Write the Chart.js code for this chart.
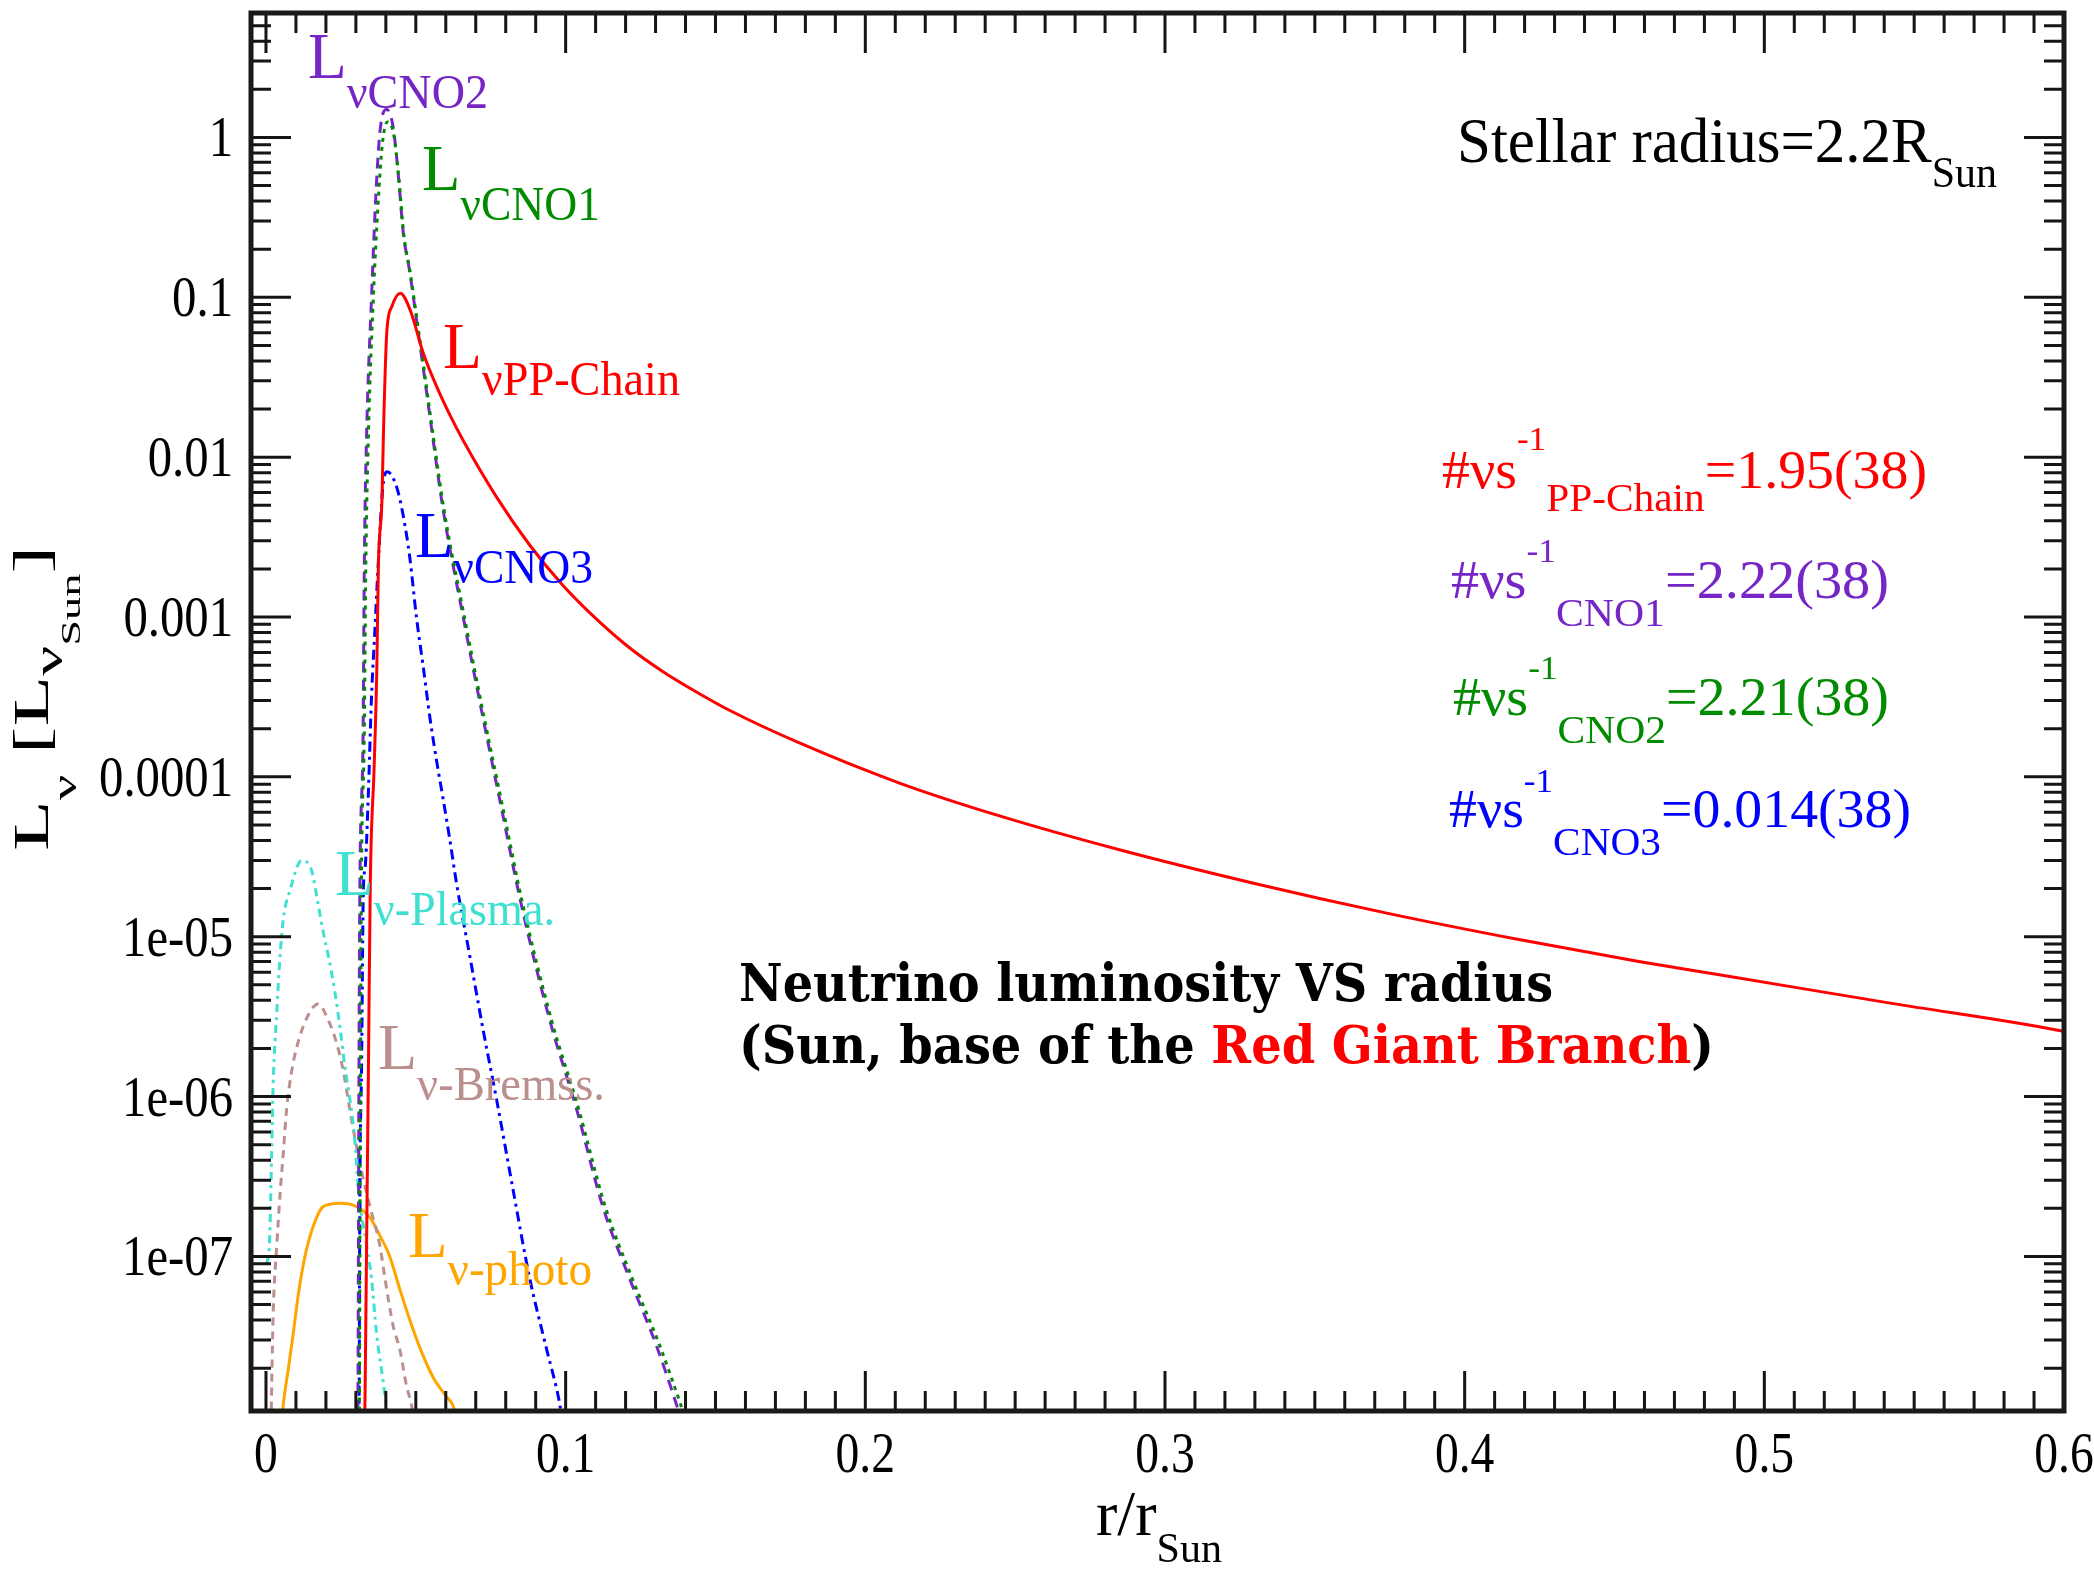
<!DOCTYPE html>
<html>
<head>
<meta charset="utf-8">
<title>Neutrino luminosity VS radius</title>
<script src="https://cdn.jsdelivr.net/npm/chart.js@4.4.1/dist/chart.umd.min.js"></script>
<style>
  html, body { margin: 0; padding: 0; background: #fff; }
  canvas { display: block; }
</style>
</head>
<body>
<canvas id="myChart" width="2094" height="1573"></canvas>
<script>
// r/r_Sun and L_nu [L_nu_Sun], one pair of arrays per process

var ppX = [0.0329, 0.0331, 0.0337, 0.0342, 0.0348, 0.0361, 0.0370, 0.0375, 0.0387, 0.0392, 0.0403, 0.0420, 0.0448, 0.0481, 0.0525, 0.0570, 0.0614, 0.0659, 0.0770, 0.0881, 0.0992, 0.1103, 0.1214, 0.1325, 0.1448, 0.1548, 0.178, 0.2114, 0.2448, 0.2848, 0.3292, 0.3736, 0.4181, 0.4581, 0.487, 0.5425, 0.598, 0.6];
var ppY = [8e-9, 1.56e-8, 2.05e-7, 1.6e-6, 2.1e-5, 1.16e-4, 4.9e-4, 2.07e-3, 5.4e-3, 1.42e-2, 5.98e-2, 8.75e-2, 0.106, 8.34e-2, 4.47e-2, 2.75e-2, 1.83e-2, 1.26e-2, 5.6e-3, 2.8e-3, 1.57e-3, 9.7e-4, 6.4e-4, 4.55e-4, 3.3e-4, 2.6e-4, 1.63e-4, 9.15e-5, 5.7e-5, 3.5e-5, 2.17e-5, 1.41e-5, 9.6e-6, 7.0e-6, 5.7e-6, 3.83e-6, 2.6e-6, 2.55e-6];

var cno1X = [0.0310, 0.0312, 0.0315, 0.0318, 0.0328, 0.0333, 0.0342, 0.0358, 0.0374, 0.0388, 0.0405, 0.0426, 0.0443, 0.0460, 0.0482, 0.0504, 0.0526, 0.0549, 0.0594, 0.0662, 0.0728, 0.0796, 0.0852, 0.0953, 0.1043, 0.1132, 0.1222, 0.1313, 0.1383, 0.1405];
var cno1Y = [5e-9, 1.5e-8, 1.0e-6, 1.7e-5, 1.9e-4, 2.0e-3, 1.43e-2, 9.7e-2, 0.38, 0.9, 1.25, 1.05, 0.56, 0.245, 0.14, 7.2e-2, 3.7e-2, 1.8e-2, 4.7e-3, 1.0e-3, 2.35e-4, 5.7e-5, 1.75e-5, 3.0e-6, 8.4e-7, 2.05e-7, 7.3e-8, 2.8e-8, 1.2e-8, 9e-9];

var cno2X = [0.0305, 0.0307, 0.0310, 0.0313, 0.0324, 0.0328, 0.0336, 0.0352, 0.0366, 0.0380, 0.0402, 0.0424, 0.0441, 0.0458, 0.0480, 0.0502, 0.0524, 0.0547, 0.0591, 0.0658, 0.0724, 0.0791, 0.0847, 0.0947, 0.1036, 0.1124, 0.1213, 0.1302, 0.1369, 0.1390];
var cno2Y = [5e-9, 1.5e-8, 1.0e-6, 1.7e-5, 1.85e-4, 2.0e-3, 1.43e-2, 9.7e-2, 0.41, 1.07, 1.5, 1.17, 0.60, 0.254, 0.143, 7.3e-2, 3.7e-2, 1.8e-2, 4.7e-3, 1.0e-3, 2.35e-4, 5.7e-5, 1.75e-5, 3.0e-6, 8.4e-7, 2.05e-7, 7.3e-8, 2.8e-8, 1.2e-8, 9e-9];

var cno3X = [0.0309, 0.0311, 0.0313, 0.0319, 0.0325, 0.0331, 0.0341, 0.0352, 0.0363, 0.0374, 0.0390, 0.0405, 0.0436, 0.0458, 0.0480, 0.0502, 0.0524, 0.0547, 0.0569, 0.0591, 0.0613, 0.0636, 0.0680, 0.0724, 0.0769, 0.0824, 0.0880, 0.0936, 0.0980, 0.0990];
var cno3Y = [5e-9, 1.6e-8, 2.05e-7, 1.55e-6, 2.0e-5, 2.7e-5, 7.3e-5, 3.1e-4, 8.0e-4, 2.05e-3, 6.5e-3, 8.1e-3, 6.5e-3, 4.3e-3, 2.35e-3, 1.0e-3, 5.0e-4, 2.35e-4, 1.27e-4, 7.3e-5, 4.1e-5, 2.15e-5, 7.6e-6, 2.65e-6, 9.7e-7, 2.65e-7, 7.3e-8, 2.65e-8, 1.2e-8, 9e-9];

var plasmaX = [0.0003, 0.0012, 0.0019, 0.0024, 0.0036, 0.0047, 0.0058, 0.0080, 0.0119, 0.0152, 0.0174, 0.0191, 0.0208, 0.0230, 0.0247, 0.0263, 0.0280, 0.0297, 0.0308, 0.0336, 0.0352, 0.0369, 0.0391, 0.0410];
var plasmaY = [9e-8, 1.25e-7, 4.5e-7, 1.2e-6, 3.4e-6, 7.6e-6, 1.3e-5, 1.95e-5, 3.0e-5, 2.6e-5, 1.6e-5, 1.07e-5, 7.6e-6, 4.5e-6, 2.7e-6, 1.55e-6, 9.6e-7, 5.2e-7, 2.65e-7, 1.17e-7, 7.3e-8, 3.3e-8, 1.65e-8, 9e-9];

var bremX = [0.0017, 0.0019, 0.0024, 0.0036, 0.0047, 0.0058, 0.0069, 0.0086, 0.0103, 0.0136, 0.0174, 0.0208, 0.0236, 0.0258, 0.0274, 0.0291, 0.0319, 0.0347, 0.0380, 0.0397, 0.0424, 0.0447, 0.0469, 0.0486, 0.0495];
var bremY = [9e-9, 1.55e-8, 4.4e-8, 1.17e-7, 2.45e-7, 4.5e-7, 8.4e-7, 1.45e-6, 2.05e-6, 3.1e-6, 3.8e-6, 3.0e-6, 2.15e-6, 1.45e-6, 9.6e-7, 6.3e-7, 3.4e-7, 2.05e-7, 1.17e-7, 7.3e-8, 3.7e-8, 2.6e-8, 1.55e-8, 1.17e-8, 9e-9];

var photoX = [0.0052, 0.0058, 0.0074, 0.0091, 0.0108, 0.0130, 0.0158, 0.0191, 0.0247, 0.0302, 0.0347, 0.0380, 0.0413, 0.0447, 0.0480, 0.0513, 0.0558, 0.0602, 0.0624, 0.0640];
var photoY = [9e-9, 1.2e-8, 1.95e-8, 3.3e-8, 5.8e-8, 1.0e-7, 1.55e-7, 2.05e-7, 2.15e-7, 2.05e-7, 1.75e-7, 1.35e-7, 1.0e-7, 6.2e-8, 4.0e-8, 2.7e-8, 1.75e-8, 1.33e-8, 1.17e-8, 9e-9];

// axis ticks
var xTickValues = [0, 0.1, 0.2, 0.3, 0.4, 0.5, 0.6];
var xTickLabels = ["0", "0.1", "0.2", "0.3", "0.4", "0.5", "0.6"];
var yTickValues = [1e-7, 1e-6, 1e-5, 1e-4, 1e-3, 1e-2, 1e-1, 1];
var yTickLabels = ["1e-07", "1e-06", "1e-05", "0.0001", "0.001", "0.01", "0.1", "1"];

// rate numbers printed on the right
var rateNames = ["PP-Chain", "CNO1", "CNO2", "CNO3"];
var rateValues = ["=1.95(38)", "=2.22(38)", "=2.21(38)", "=0.014(38)"];

var SERIF = '"Liberation Serif", "Times New Roman", serif';
var PURPLE = "#7526c4", GREEN = "#008b00", CYAN = "#40e0d0", ROSY = "#bc8f8f", ORANGE = "#ffa500";

function toPoints(xs, ys) {
    var pts = [];
    for (var i = 0; i < xs.length; i++) {
        pts.push({ x: xs[i], y: ys[i] });
    }
    return pts;
}

// draws a row of text pieces, squeezed/stretched sideways to fill "width"
function drawRich(ctx, x, y, parts, width) {
    var total = 0;
    parts.forEach(function(p) {
        ctx.font = p.font;
        p.w = ctx.measureText(p.text).width;
        total += p.w;
    });
    var sx = width ? width / total : 1;
    ctx.save();
    ctx.translate(x, y);
    ctx.scale(sx, 1);
    var cx = 0;
    parts.forEach(function(p) {
        ctx.font = p.font;
        ctx.fillStyle = p.color;
        ctx.fillText(p.text, cx, p.dy || 0);
        cx += p.w;
    });
    ctx.restore();
    return total * sx;
}

function curveLabel(ctx, x, base, sub, subDy, width, color) {
    drawRich(ctx, x, base, [
        { text: "L", font: "66px " + SERIF, color: color },
        { text: sub, font: "48px " + SERIF, color: color, dy: subDy }
    ], width);
}

function rateLine(ctx, x, base, i, supDy, subDy, width, color) {
    drawRich(ctx, x, base, [
        { text: "#νs", font: "54px " + SERIF, color: color },
        { text: "-1", font: "34px " + SERIF, color: color, dy: supDy },
        { text: rateNames[i], font: "40px " + SERIF, color: color, dy: subDy },
        { text: rateValues[i], font: "54px " + SERIF, color: color }
    ], width);
}

// frame with inward ticks on all four sides, tick labels and axis titles
var framePlugin = {
    id: "frame",
    afterDatasetsDraw: function(chart) {
        var ctx = chart.ctx;
        var a = chart.chartArea;
        var xs = chart.scales.x, ys = chart.scales.y;
        ctx.save();
        ctx.strokeStyle = "#151515";
        ctx.lineWidth = 3;
        ctx.beginPath();
        for (var k = 0; k <= 60; k++) {
            var px = xs.getPixelForValue(k / 100);
            var len = (k % 10 === 0) ? 40 : 20;
            ctx.moveTo(px, a.bottom); ctx.lineTo(px, a.bottom - len);
            ctx.moveTo(px, a.top); ctx.lineTo(px, a.top + len);
        }
        for (var e = -8; e <= 0; e++) {
            for (var m = 1; m <= 9; m++) {
                var v = m * Math.pow(10, e);
                if (v < ys.min || v > ys.max * 0.999) continue;
                var py = ys.getPixelForValue(v);
                var l2 = (m === 1) ? 40 : 20;
                ctx.moveTo(a.left, py); ctx.lineTo(a.left + l2, py);
                ctx.moveTo(a.right, py); ctx.lineTo(a.right - l2, py);
            }
        }
        ctx.stroke();
        ctx.lineWidth = 5;
        ctx.strokeStyle = "#1a1a1a";
        ctx.strokeRect(a.left, a.top, a.right - a.left, a.bottom - a.top);

        ctx.textBaseline = "alphabetic";
        ctx.textAlign = "left";
        var tickFont = "56px " + SERIF;
        ctx.font = tickFont;
        for (var i = 0; i < yTickValues.length; i++) {
            var w = ctx.measureText(yTickLabels[i]).width * 0.87;
            var yy = ys.getPixelForValue(yTickValues[i]);
            drawRich(ctx, 233 - w, yy + 19, [{ text: yTickLabels[i], font: tickFont, color: "#000" }], w);
            ctx.font = tickFont;
        }
        for (var j = 0; j < xTickValues.length; j++) {
            var w2 = ctx.measureText(xTickLabels[j]).width * 0.85;
            var xx = xs.getPixelForValue(xTickValues[j]);
            drawRich(ctx, xx - w2 / 2, a.bottom + 61, [{ text: xTickLabels[j], font: tickFont, color: "#000" }], w2);
            ctx.font = tickFont;
        }

        // x title
        drawRich(ctx, 1096, 1535, [
            { text: "r/r", font: "64px " + SERIF, color: "#000" },
            { text: "Sun", font: "42px " + SERIF, color: "#000", dy: 27 }
        ], 126);

        // y title, rotated
        ctx.save();
        ctx.translate(48, 851);
        ctx.rotate(-Math.PI / 2);
        drawRich(ctx, 0, 0, [
            { text: "L", font: "50px " + SERIF, color: "#000" },
            { text: "ν", font: "34px " + SERIF, color: "#000", dy: 28 },
            { text: " [L", font: "50px " + SERIF, color: "#000" },
            { text: "ν", font: "40px " + SERIF, color: "#000", dy: 14 },
            { text: "Sun", font: "28px " + SERIF, color: "#000", dy: 32 },
            { text: "]", font: "50px " + SERIF, color: "#000" }
        ], 305);
        ctx.restore();
        ctx.restore();
    }
};

// curve labels and notes
var textPlugin = {
    id: "notes",
    afterDraw: function(chart) {
        var ctx = chart.ctx;
        ctx.save();
        ctx.textBaseline = "alphabetic";
        ctx.textAlign = "left";

        curveLabel(ctx, 308, 78, "νCNO2", 30, 180, PURPLE);
        curveLabel(ctx, 422, 190, "νCNO1", 30, 178, GREEN);
        curveLabel(ctx, 443, 368, "νPP-Chain", 27, 237, "#ff0000");
        curveLabel(ctx, 415, 557, "νCNO3", 26, 178, "#0000ff");
        curveLabel(ctx, 335, 895, "ν-Plasma.", 30, 220, CYAN);
        curveLabel(ctx, 378, 1069, "ν-Bremss.", 31, 227, ROSY);
        curveLabel(ctx, 408, 1257, "ν-photo", 28, 184, ORANGE);

        drawRich(ctx, 1457, 162, [
            { text: "Stellar radius=2.2R", font: "64px " + SERIF, color: "#000" },
            { text: "Sun", font: "44px " + SERIF, color: "#000", dy: 25 }
        ], 540);

        rateLine(ctx, 1442, 488, 0, -38, 23, 485, "#ff0000");
        rateLine(ctx, 1451, 598, 1, -36, 28, 438, PURPLE);
        rateLine(ctx, 1453, 715, 2, -36, 28, 436, GREEN);
        rateLine(ctx, 1449, 827, 3, -35, 28, 462, "#0000ff");

        var bold = 'bold 52px "DejaVu Serif Condensed", "DejaVu Serif", serif';
        drawRich(ctx, 739, 1001, [{ text: "Neutrino luminosity VS radius", font: bold, color: "#000" }], 814);
        drawRich(ctx, 739, 1063, [
            { text: "(Sun, base of the ", font: bold, color: "#000" },
            { text: "Red Giant Branch", font: bold, color: "#ff0000" },
            { text: ")", font: bold, color: "#000" }
        ], 975);
        ctx.restore();
    }
};

var lineDefaults = { fill: false, pointRadius: 0, borderWidth: 3, cubicInterpolationMode: "monotone" };

function series(label, xs, ys, color, dash) {
    return Object.assign({}, lineDefaults, {
        label: label,
        data: toPoints(xs, ys),
        borderColor: color,
        borderDash: dash
    });
}

var ctx = document.getElementById("myChart");
var myChart = new Chart(ctx, {
    type: "line",
    data: {
        datasets: [
            series("L PP-Chain", ppX, ppY, "#ff0000", []),
            series("L CNO1", cno1X, cno1Y, GREEN, [4, 5]),
            series("L CNO2", cno2X, cno2Y, PURPLE, [11, 7]),
            series("L CNO3", cno3X, cno3Y, "#0000ff", [10, 5, 3, 5]),
            series("L Plasma", plasmaX, plasmaY, CYAN, [8, 5, 3, 5]),
            series("L Bremss", bremX, bremY, ROSY, [8, 6]),
            series("L photo", photoX, photoY, ORANGE, [])
        ]
    },
    options: {
        responsive: false,
        animation: false,
        devicePixelRatio: 1,
        layout: { padding: { left: 251, top: 13, right: 30, bottom: 162 } },
        scales: {
            x: { type: "linear", min: -0.005, max: 0.6, display: false },
            y: { type: "logarithmic", min: 1.08e-8, max: 6, display: false }
        },
        plugins: {
            legend: { display: false },
            tooltip: { enabled: false }
        }
    },
    plugins: [framePlugin, textPlugin]
});
</script>
</body>
</html>
